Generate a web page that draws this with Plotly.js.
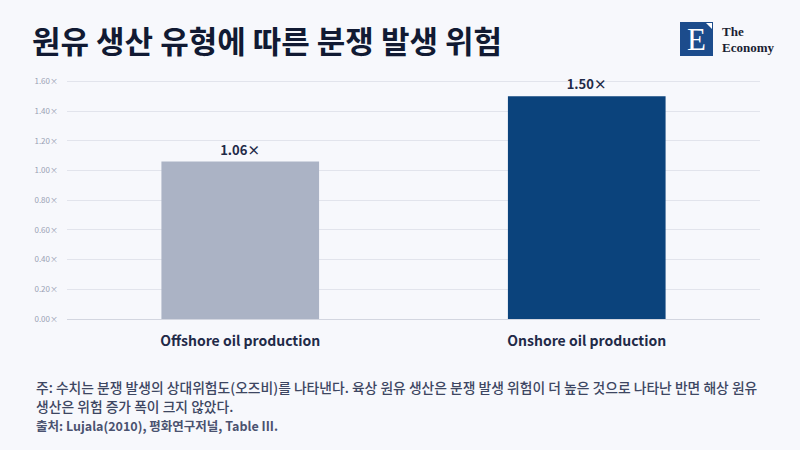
<!DOCTYPE html>
<html><head><meta charset="utf-8">
<script src="https://cdn.plot.ly/plotly-3.0.1.min.js"></script>
<style>html,body{margin:0;padding:0;background:#f7f8fc;}#chart{width:800px;height:450px;}</style>
</head><body><div id="chart"></div>
<script>
const categories = ["Offshore oil production", "Onshore oil production"];
const values = [1.06, 1.50];
const barColors = ["#abb3c5", "#0b437c"];
const tickVals = [0, 0.2, 0.4, 0.6, 0.8, 1.0, 1.2, 1.4, 1.6];
const tickText = tickVals.map(v => v.toFixed(2) + "×");
const valueLabels = values.map(v => v.toFixed(2) + "×");

const FONT = "Noto Sans CJK KR, Noto Sans, sans-serif";

const trace = {
  type: "bar",
  x: categories,
  y: values,
  marker: {color: barColors},
  text: valueLabels,
  textposition: "outside",
  cliponaxis: false,
  textfont: {family: FONT, size: 13, color: "#1f2a48", weight: 700},
  hoverinfo: "skip"
};

const px = x => (x-67)/693, py = y => (450-131-y)/245;

const layout = {
  width: 800, height: 450,
  paper_bgcolor: "#f7f8fc",
  plot_bgcolor: "#f7f8fc",
  margin: {l: 67, r: 40, t: 74, b: 131},
  bargap: 0.545,
  showlegend: false,
  font: {family: FONT},
  xaxis: {
    showgrid: false, zeroline: false, showline: false,
    ticks: "", tickfont: {family: FONT, size: 14, color: "#1f2a48", weight: 700},
    ticklabelstandoff: 12
  },
  yaxis: {
    range: [0, 1.65],
    tickvals: tickVals, ticktext: tickText,
    tickfont: {family: FONT, size: 8, color: "#9aa1b4"},
    gridcolor: "#e2e4ec", gridwidth: 1,
    zeroline: true, zerolinecolor: "#d3d6e0", zerolinewidth: 1,
    showline: false, ticks: "", ticklabelstandoff: 8, fixedrange: true
  },
  shapes: [
    {type: "rect", xref: "paper", yref: "paper", x0: px(680), x1: px(713),
     y0: py(56), y1: py(22), fillcolor: "#1c4c8c", line: {width: 0}},
    {type: "path", xref: "paper", yref: "paper",
     path: "M " + px(706) + "," + py(23) + " L " + px(712) + "," + py(23) + " L " + px(712) + "," + py(29) + " Z",
     fillcolor: "#ffffff", line: {width: 0}}
  ],
  annotations: [
    {text: "<b>원유 생산 유형에 따른 분쟁 발생 위험</b>", xref: "paper", yref: "paper",
     x: px(30), y: py(40), xanchor: "left", yanchor: "middle", showarrow: false,
     font: {family: FONT, size: 31, color: "#111a33"}},
    {text: "E", xref: "paper", yref: "paper", x: px(696.5), y: py(40),
     xanchor: "center", yanchor: "middle", showarrow: false,
     font: {family: "Liberation Serif, DejaVu Serif, serif", size: 31, color: "#ffffff"}},
    {text: "<b>The</b>", xref: "paper", yref: "paper", x: px(720), y: py(32),
     xanchor: "left", yanchor: "middle", align: "left", showarrow: false,
     font: {family: "Liberation Serif, DejaVu Serif, serif", size: 13, color: "#1a1f33"}},
    {text: "<b>Economy</b>", xref: "paper", yref: "paper", x: px(720), y: py(47),
     xanchor: "left", yanchor: "middle", align: "left", showarrow: false,
     font: {family: "Liberation Serif, DejaVu Serif, serif", size: 13, color: "#1a1f33"}},
    {text: "주: 수치는 분쟁 발생의 상대위험도(오즈비)를 나타낸다. 육상 원유 생산은 분쟁 발생 위험이 더 높은 것으로 나타난 반면 해상 원유",
     xref: "paper", yref: "paper", x: px(35), y: py(387),
     xanchor: "left", yanchor: "middle", align: "left", showarrow: false, borderpad: 0,
     font: {family: FONT, size: 13.8, color: "#3d4662", weight: 500}},
    {text: "생산은 위험 증가 폭이 크지 않았다.",
     xref: "paper", yref: "paper", x: px(35), y: py(406),
     xanchor: "left", yanchor: "middle", align: "left", showarrow: false, borderpad: 0,
     font: {family: FONT, size: 13.8, color: "#3d4662", weight: 500}},
    {text: "<b>출처: Lujala(2010), 평화연구저널, Table III.</b>",
     xref: "paper", yref: "paper", x: px(35), y: py(425),
     xanchor: "left", yanchor: "middle", align: "left", showarrow: false, borderpad: 0,
     font: {family: FONT, size: 12.5, color: "#4a5270"}}
  ]
};

Plotly.newPlot("chart", [trace], layout, {displayModeBar: false, staticPlot: true});
</script></body></html>
